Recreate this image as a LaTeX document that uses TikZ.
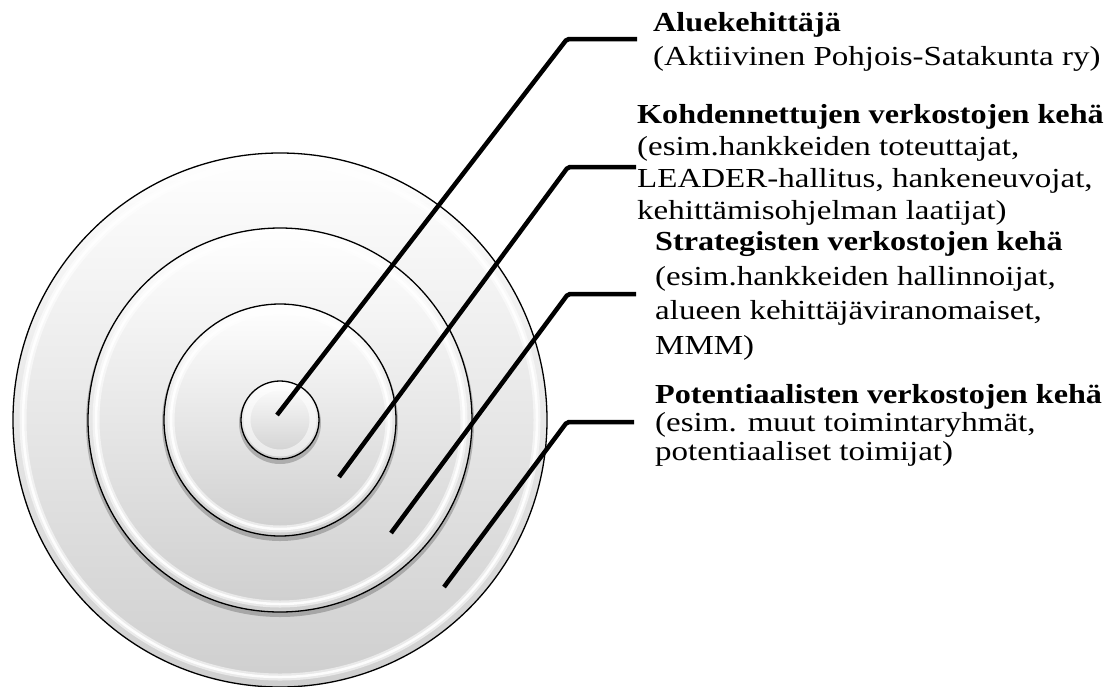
\documentclass[tikz,border=0pt]{standalone}
\usepackage{fontspec}
\setmainfont{Liberation Serif}[FakeStretch=1.2, BoldFeatures={FakeStretch=1.17}]
\begin{document}
\begin{tikzpicture}[x=1pt,y=-1pt,
  disc/.style={circle, draw=black, line width=1.3pt, inner sep=0pt, top color=white, bottom color=black!19},
  glintwide/.style={draw=white, line width=7pt, opacity=0.55},
  glint/.style={draw=white, line width=2.5pt, opacity=0.9},
  dropshadow/.style={fill=black, opacity=0.22},
  leader/.style={draw=black, line width=4.5pt, rounded corners=2pt},
  lbl/.style={anchor=base west, inner sep=0pt, align=left}]
\useasboundingbox (0,0) rectangle (1110,686);
\coordinate (c) at (280,420);
% outer ring
\node[disc, minimum size=534pt] (r4) at (c) {};
\draw[glintwide] (c) circle[radius=257pt];
\draw[glint] (c) circle[radius=257pt];
% ring 3
\fill[dropshadow] ([yshift=-3pt]c) circle[radius=194pt];
\node[disc, minimum size=384pt] (r3) at (c) {};
\draw[glintwide] (c) circle[radius=184pt];
\draw[glint] (c) circle[radius=184pt];
% ring 2
\fill[dropshadow] ([yshift=-3pt]c) circle[radius=118pt];
\node[disc, minimum size=232pt] (r2) at (c) {};
\draw[glintwide] (c) circle[radius=109pt];
\draw[glint] (c) circle[radius=109pt];
% ring 1
\fill[dropshadow] ([yshift=-3pt]c) circle[radius=41pt];
\node[disc, minimum size=78pt] (r1) at (c) {};
\draw[glintwide] (c) circle[radius=33pt];
% leader lines
\coordinate (p1) at (277,415); \coordinate (e1) at (567,39);  \coordinate (h1) at (637,39);
\coordinate (p2) at (339,477); \coordinate (e2) at (568,167); \coordinate (h2) at (636,167);
\coordinate (p3) at (391,533); \coordinate (e3) at (568,294); \coordinate (h3) at (636,294);
\coordinate (p4) at (444,587); \coordinate (e4) at (567,422); \coordinate (h4) at (634,422);
\draw[leader] (p1) -- (e1) -- (h1);
\draw[leader] (p2) -- (e2) -- (h2);
\draw[leader] (p3) -- (e3) -- (h3);
\draw[leader] (p4) -- (e4) -- (h4);
% labels (anchor = baseline of the last line)
\node[lbl, font=\fontsize{27.5}{34}\selectfont] (tA) at (653,65) {\textbf{Aluekehittäjä}\\(Aktiivinen Pohjois-Satakunta ry)};
\node[lbl, font=\fontsize{27.5}{32}\selectfont] (tK) at (637,219) {\textbf{Kohdennettujen verkostojen kehä}\\(esim.hankkeiden toteuttajat,\\LEADER-hallitus, hankeneuvojat,\\kehittämisohjelman laatijat)};
\node[lbl, font=\fontsize{27.5}{34.5}\selectfont] (tS) at (655,354) {\textbf{Strategisten verkostojen kehä}\\(esim.hankkeiden hallinnoijat,\\alueen kehittäjäviranomaiset,\\MMM)};
\node[lbl, font=\fontsize{27.5}{28.5}\selectfont] (tP) at (655,460) {\textbf{Potentiaalisten verkostojen kehä}\\(esim. muut toimintaryhmät,\\potentiaaliset toimijat)};
\end{tikzpicture}
\end{document}
